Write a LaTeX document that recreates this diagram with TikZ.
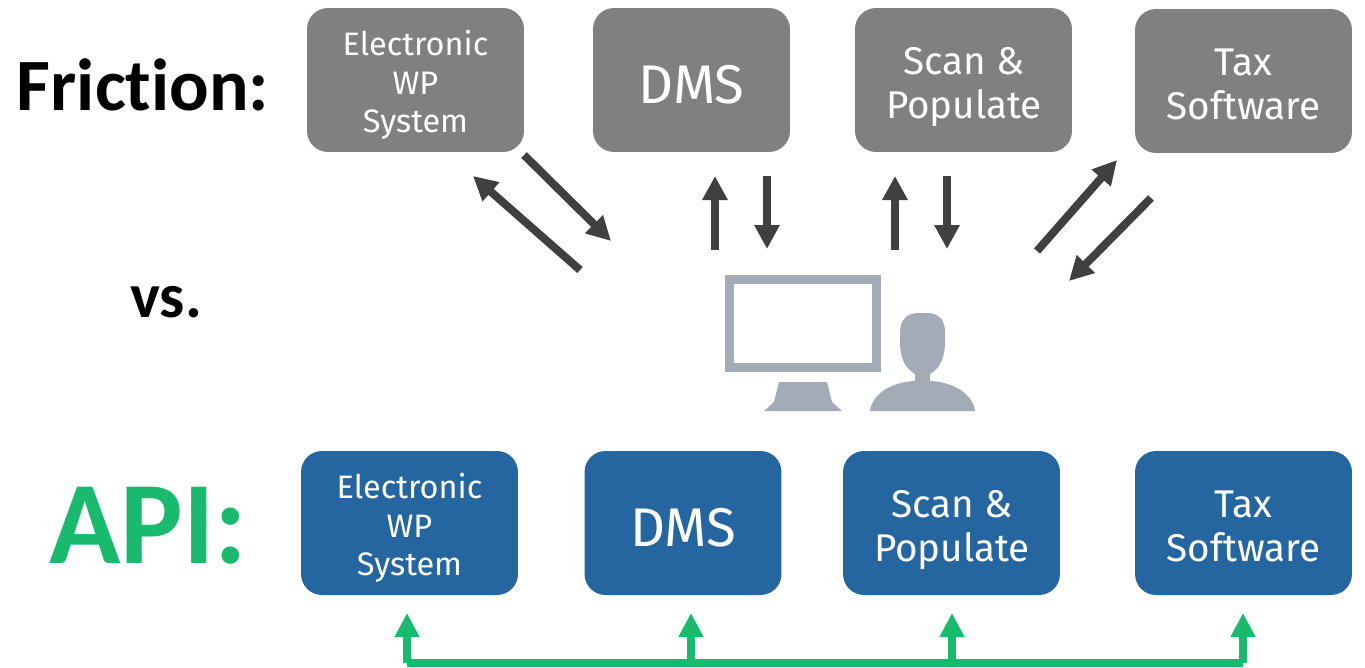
\documentclass[tikz,border=0pt]{standalone}
\usepackage{fontspec}
\usetikzlibrary{arrows.meta}
\setmainfont{Fira Sans}
\newfontfamily\labelfont[Ligatures=NoCommon]{Carlito}
\definecolor{boxgray}{HTML}{808080}
\definecolor{boxblue}{HTML}{2566A0}
\definecolor{icongray}{HTML}{A3ABB7}
\definecolor{arrowgray}{HTML}{404040}
\definecolor{apigreen}{HTML}{19B96E}
\begin{document}
\begin{tikzpicture}
            [x=0.02cm,y=-0.02cm,
            box/.style={rounded corners=0.42cm,inner sep=0,minimum height=2.88cm},
            wide/.style={box,minimum width=4.34cm},
            narrow/.style={box,minimum width=3.94cm},
            boxtext/.style={text=white,align=center,inner sep=0},
            small/.style={boxtext,font=\fontsize{18.5}{21.9}\selectfont},
            medium/.style={boxtext,font=\fontsize{22}{25}\selectfont},
            large/.style={boxtext,font=\fontsize{31}{33}\selectfont},
            title/.style={inner sep=0},
            friction/.style={draw=arrowgray,line width=0.16cm,-{Triangle[length=0.48cm,width=0.48cm]}},
            api/.style={draw=apigreen,line width=0.16cm,-{Triangle[length=0.48cm,width=0.47cm]}}]

            \useasboundingbox (0,0) rectangle (1365,667);

            \node[title,font=\labelfont\bfseries\fontsize{42}{42}\selectfont] (friction) at (143,85) {Friction:};
            \node[title,font=\labelfont\bfseries\fontsize{36}{36}\selectfont] (vs) at (166,302) {vs.};
            \node[title,text=apigreen,font=\labelfont\bfseries\fontsize{67}{67}\selectfont] (apilabel) at (148,526) {API:};

            \node[wide,fill=boxgray] (g1) at (415.5,80) {};
            \node[narrow,fill=boxgray] (g2) at (691.5,80) {};
            \node[wide,fill=boxgray] (g3) at (963.5,80) {};
            \node[wide,fill=boxgray] (g4) at (1243.5,81) {};
            \node[small] (g1text) at (415.5,85) {Electronic\\WP\\System};
            \node[large] (g2text) at (691.5,85) {DMS};
            \node[medium] (g3text) at (964,87) {Scan \&\\Populate};
            \node[medium] (g4text) at (1243.5,84) {Tax\\Software};

            \node[wide,fill=boxblue] (b1) at (409.5,523) {};
            \node[narrow,fill=boxblue] (b2) at (683,523) {};
            \node[wide,fill=boxblue] (b3) at (951.5,523) {};
            \node[wide,fill=boxblue] (b4) at (1243.5,523) {};
            \node[small] (b1text) at (409.5,528) {Electronic\\WP\\System};
            \node[large] (b2text) at (683,528) {DMS};
            \node[medium] (b3text) at (952,530) {Scan \&\\Populate};
            \node[medium] (b4text) at (1243.5,526) {Tax\\Software};

            \node[draw=icongray,line width=0.18cm,inner sep=0,minimum width=2.94cm,minimum height=1.76cm] (screen) at (803,323.5) {};
            \fill[icongray] (779,382) -- (827,382) -- (832,402) -- (842,411) -- (764,411) -- (774,402) -- cycle;
            \fill[icongray] (870,411) .. controls (872,395) and (890,382) .. (915,381) -- (915,374)
              .. controls (905,368) and (900,358) .. (900,342) -- (900,332)
              .. controls (900,319) and (908,313) .. (918,313) -- (927,313)
              .. controls (938,313) and (945,319) .. (945,332) -- (945,342)
              .. controls (945,358) and (940,368) .. (930,374) -- (930,381)
              .. controls (955,382) and (973,395) .. (975,411) -- cycle;

            \coordinate (a1) at (580,270);
            \coordinate (a2) at (473,176);
            \coordinate (a3) at (524,155);
            \coordinate (a4) at (611,241);
            \coordinate (a5) at (715,250);
            \coordinate (a6) at (715,176);
            \coordinate (a7) at (767,176);
            \coordinate (a8) at (767,249);
            \coordinate (a9) at (895,250);
            \coordinate (a10) at (895,176);
            \coordinate (a11) at (947,176);
            \coordinate (a12) at (947,249);
            \coordinate (a13) at (1037,251);
            \coordinate (a14) at (1117,160);
            \coordinate (a15) at (1151,198);
            \coordinate (a16) at (1069,281);

            \draw[friction] (a1) -- (a2);
            \draw[friction] (a3) -- (a4);
            \draw[friction] (a5) -- (a6);
            \draw[friction] (a7) -- (a8);
            \draw[friction] (a9) -- (a10);
            \draw[friction] (a11) -- (a12);
            \draw[friction] (a13) -- (a14);
            \draw[friction] (a15) -- (a16);

            \coordinate (t1) at (407,662.5);
            \coordinate (t2) at (691,662.5);
            \coordinate (t3) at (952,662.5);
            \coordinate (t4) at (1243,662.5);
            \coordinate (h1) at (407,613);
            \coordinate (h2) at (691,613);
            \coordinate (h3) at (952,613);
            \coordinate (h4) at (1243,613);

            \draw[api,-] (t1) -- (t4);
            \draw[api] (t1) -- (h1);
            \draw[api] (t2) -- (h2);
            \draw[api] (t3) -- (h3);
            \draw[api] (t4) -- (h4);
          \end{tikzpicture}
\end{document}
